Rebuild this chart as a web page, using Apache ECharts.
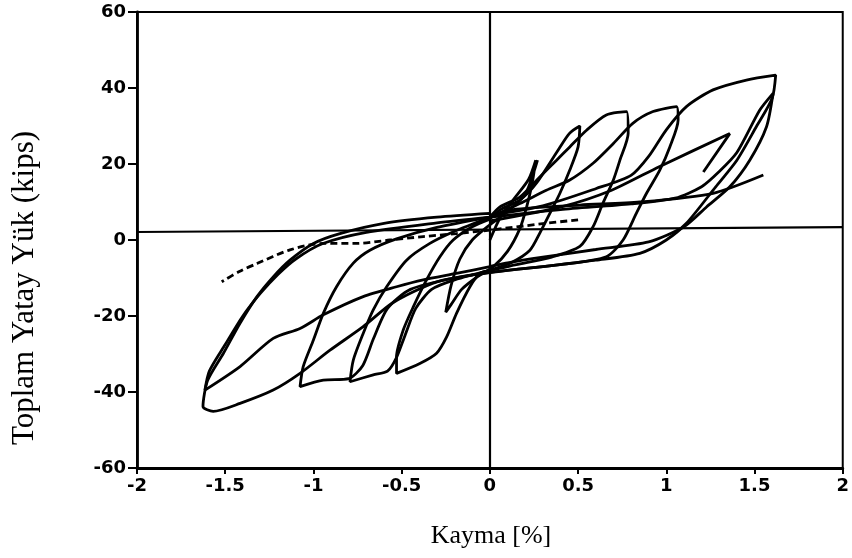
<!DOCTYPE html>
<html>
<head>
<meta charset="utf-8">
<script src="https://cdn.jsdelivr.net/npm/echarts@6/dist/echarts.min.js"></script>
<style>
  html, body { margin: 0; padding: 0; background: #fff; }
  #main { width: 852px; height: 558px; }
</style>
</head>
<body>
<div id="main"></div>
<script>
// eksen tikleri
var xTicks = [-2, -1.5, -1, -0.5, 0, 0.5, 1, 1.5, 2];
var yTicks = [-60, -40, -20, 0, 20, 40, 60];

// cevrim verileri [kayma %, yuk kips]
var cycle1 = [[0,0],[0.06,6],[0.14,11],[0.22,16],[0.26,21],[0.24,15],[0.21,9],[0.17,3],[0.1,-3],[0.02,-7],
  [-0.08,-10],[-0.16,-13],[-0.22,-17],[-0.25,-19],[-0.22,-12],[-0.17,-5],[-0.1,0],[0,4],[0.1,7.5],[0.2,12],[0.25,18],[0.27,21]];

var cycle2 = [[0,5.5],[0.06,8],[0.17,10.5],[0.265,15],[0.378,23],[0.45,28],[0.51,30],[0.5,24.5],[0.453,18.4],
  [0.397,12.3],[0.34,7],[0.283,1.8],[0.227,-2.7],[0.12,-6],[0,-8],[-0.057,-8.8],[-0.113,-12.3],[-0.189,-19.3],
  [-0.245,-25.5],[-0.302,-29.8],[-0.397,-32.5],[-0.529,-35.1],[-0.529,-30.7],[-0.491,-23.7],[-0.434,-17.6],
  [-0.359,-10.5],[-0.283,-4.4],[-0.208,0],[-0.1,3.5],[0,5.5]];

var cycle3 = [[0,6],[0.057,8.7],[0.17,11.3],[0.283,16.6],[0.378,21],[0.453,24.5],[0.548,28.9],[0.66,32.9],
  [0.775,33.8],[0.784,28.1],[0.737,21],[0.7,15.8],[0.64,9.6],[0.585,3.5],[0.51,-1.7],[0.35,-4.5],[0.15,-6.5],
  [0,-8],[-0.2,-10.5],[-0.33,-13],[-0.42,-18],[-0.48,-25],[-0.53,-31],[-0.58,-34.5],[-0.661,-35.5],[-0.793,-37.3],
  [-0.774,-31.6],[-0.718,-24.6],[-0.661,-18.4],[-0.585,-12.3],[-0.472,-5.3],[-0.34,-0.9],[-0.2,2.3],[0,6]];

var cycle4 = [[0,6],[0.17,9.6],[0.32,13.1],[0.453,15.8],[0.585,20.2],[0.7,25.4],[0.81,30.7],[0.925,33.8],
  [1.058,35.1],[1.067,31.6],[1.02,24.5],[0.963,18.4],[0.888,12.3],[0.83,7],[0.755,0],[0.66,-4.4],[0.4,-6.5],
  [0.1,-8],[-0.2,-10],[-0.45,-13],[-0.58,-18],[-0.66,-26],[-0.72,-33],[-0.8,-36.5],[-0.944,-36.9],[-1.076,-38.6],
  [-1.058,-33.3],[-1,-26.3],[-0.944,-19.3],[-0.869,-12.3],[-0.774,-6.1],[-0.68,-2.7],[-0.529,0.3],[-0.3,3.3],[0,6]];

var cycle5 = [[0,6.5],[0.3,9],[0.6,13.5],[0.8,17],[0.9,22],[1,29],[1.114,35.1],[1.265,39.5],[1.454,42.1],
  [1.62,43.4],[1.6,37.3],[1.51,29.8],[1.4,21],[1.28,14],[1.114,4.4],[1,0],[0.85,-3.5],[0.6,-5.3],[0.3,-7],
  [0,-8.5],[-0.3,-11],[-0.55,-16.5],[-0.718,-22.8],[-0.906,-29],[-1.076,-35.1],[-1.228,-39.5],[-1.416,-43],
  [-1.568,-45.1],[-1.626,-43.8],[-1.6,-37],[-1.51,-29.8],[-1.416,-21.9],[-1.32,-14.9],[-1.228,-9.7],
  [-1.133,-5.3],[-1,-0.9],[-0.85,1.7],[-0.6,4.4],[-0.3,6],[0,7]];

var cycle6 = [[0,6],[0.4,8],[0.8,9.5],[1.05,11],[1.2,14],[1.3,18],[1.4,23],[1.53,34.2],[1.605,38.6],
  [1.568,29.8],[1.473,21],[1.36,14],[1.228,8.7],[1.1,3.5],[0.9,-0.5],[0.6,-2.5],[0.3,-4.5],[0.1,-6],[0,-7],
  [-0.19,-8.8],[-0.378,-10.5],[-0.529,-12.3],[-0.718,-14.9],[-0.944,-19.7],[-1.076,-23.3],[-1.228,-25.9],
  [-1.416,-33.3],[-1.615,-39.5],[-1.59,-34.5],[-1.5,-27.5],[-1.4,-20],[-1.3,-14],[-1.2,-9],[-1.1,-5],
  [-0.95,-1],[-0.7,2],[-0.3,4.5],[0,6]];

var partial = [[0,5],[0.41,8.8],[0.69,13.1],[0.96,19.3],[1.36,28],[1.21,17.9]];
var finalRamp = [[0,6],[0.13,8],[0.51,9.2],[0.85,10],[1.265,12.3],[1.55,17.1]];
var dashed = [[0.5,5.3],[0.3,4.3],[0,2.6],[-0.19,1.7],[-0.378,0.9],[-0.567,0],[-0.755,-0.9],[-0.944,-0.9],
  [-1.133,-2.6],[-1.32,-6.2],[-1.42,-8.3],[-1.52,-11]];

// sekildeki yatay referans cizgisi
var baseLine = [[-2, 2.1], [2, 3.4]];

var solidCurves = [cycle1, cycle2, cycle3, cycle4, cycle5, cycle6, partial, finalRamp];

var chart = echarts.init(document.getElementById('main'), null, { renderer: 'canvas' });

var series = solidCurves.map(function (d) {
  return {
    type: 'line', data: d, showSymbol: false, smooth: 0.25,
    lineStyle: { color: '#000', width: 2.8 }, silent: true
  };
});
series.push({
  type: 'line', data: dashed, showSymbol: false, smooth: 0.3,
  lineStyle: { color: '#000', width: 2.8, type: [7, 4] }, silent: true
});
series.push({
  type: 'line', data: [], showSymbol: false,
  markLine: {
    silent: true, symbol: 'none', label: { show: false },
    lineStyle: { color: '#000', width: 2.2, type: 'solid' },
    data: [
      [{ coord: baseLine[0] }, { coord: baseLine[1] }],
      { xAxis: 0 }
    ]
  }
});

var option = {
  animation: false,
  backgroundColor: '#fff',
  grid: { left: 137, right: 7, top: 12, bottom: 90, show: true, borderColor: '#000', borderWidth: 2 },
  xAxis: {
    type: 'value', min: xTicks[0], max: xTicks[xTicks.length - 1], interval: 0.5,
    axisLine: { show: true, onZero: false, lineStyle: { color: '#000', width: 2.8 } },
    axisTick: { show: true, length: 6, lineStyle: { color: '#000', width: 2 } },
    axisLabel: { color: '#000', fontFamily: 'DejaVu Sans', fontWeight: 'bold', fontSize: 18, margin: 9 },
    splitLine: { show: false }
  },
  yAxis: {
    type: 'value', min: yTicks[0], max: yTicks[yTicks.length - 1], interval: 20,
    axisLine: { show: true, onZero: false, lineStyle: { color: '#000', width: 2.8 } },
    axisTick: { show: true, length: 9, lineStyle: { color: '#000', width: 2 } },
    axisLabel: { color: '#000', fontFamily: 'DejaVu Sans', fontWeight: 'bold', fontSize: 18, margin: 11 },
    splitLine: { show: false }
  },
  graphic: [
    {
      type: 'text', x: 491, y: 536,
      style: { text: 'Kayma [%]', font: '26px "Liberation Serif"', fill: '#000', textAlign: 'center', textVerticalAlign: 'middle' }
    },
    {
      type: 'text', x: 25, y: 288, rotation: Math.PI / 2,
      style: { text: 'Toplam Yatay Yük (kips)', font: '31px "Liberation Serif"', fill: '#000', textAlign: 'center', textVerticalAlign: 'middle' }
    }
  ],
  series: series
};

chart.setOption(option);
</script>
</body>
</html>
